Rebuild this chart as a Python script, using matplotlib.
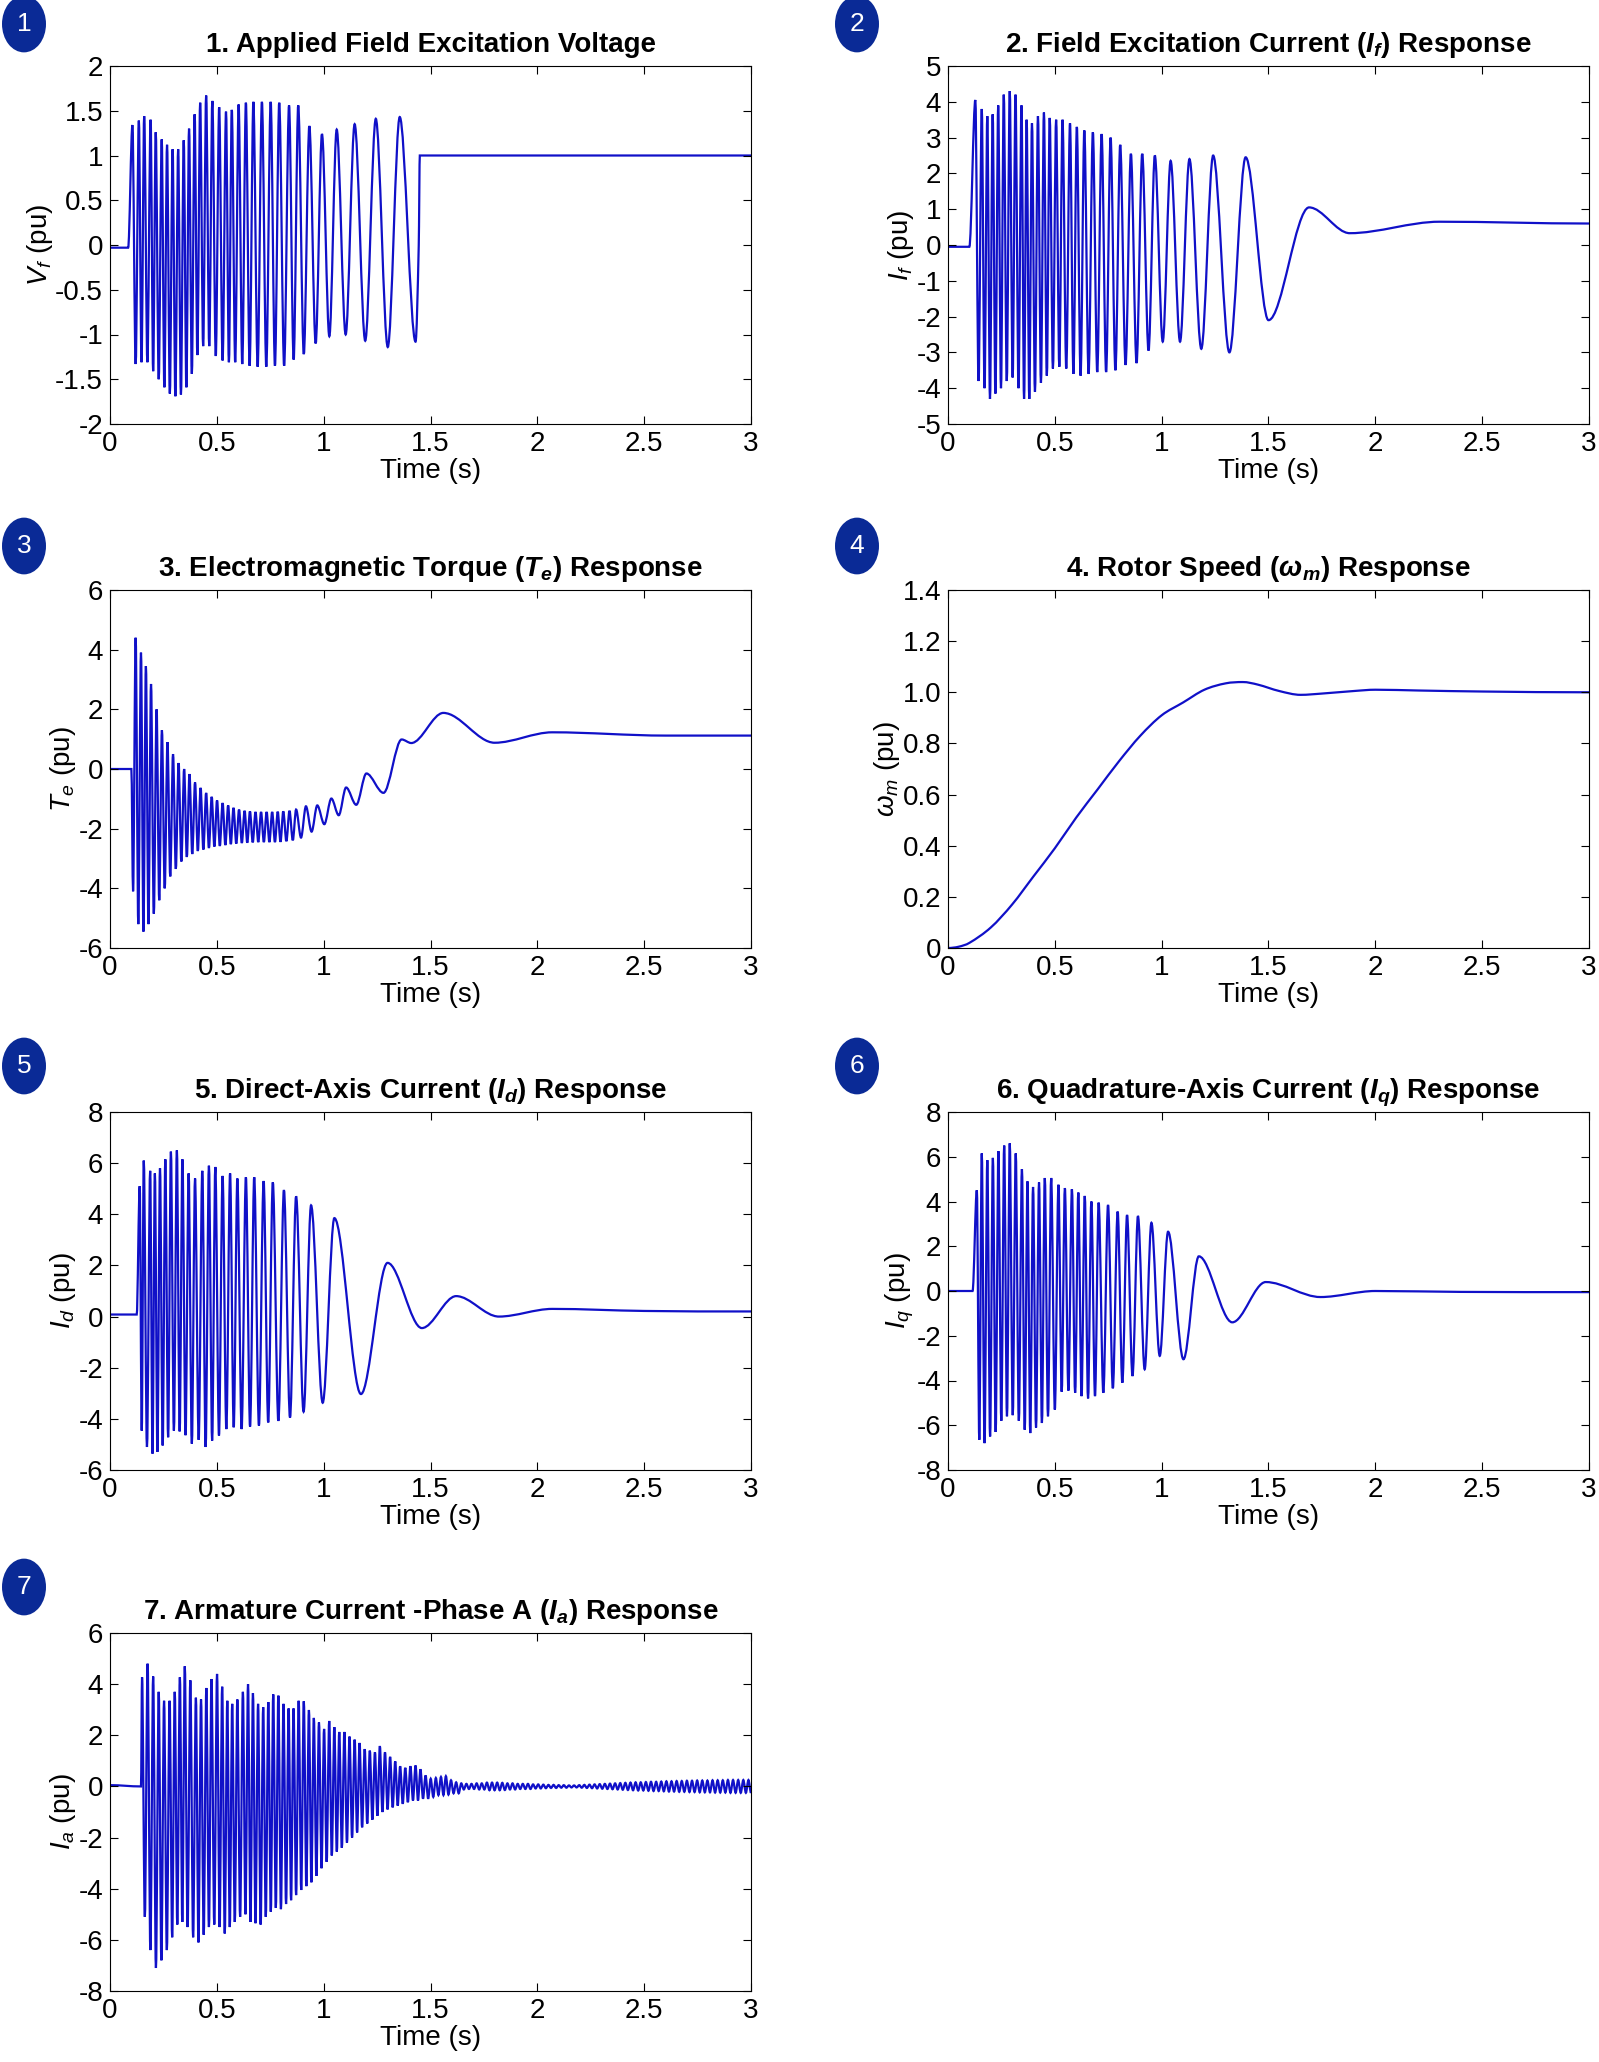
import numpy as np
import matplotlib
matplotlib.use("Agg")
import matplotlib.pyplot as plt
from matplotlib.patches import Circle, PathPatch
from matplotlib.path import Path

plt.rcParams['font.family'] = ['Liberation Sans', 'DejaVu Sans']
plt.rcParams['mathtext.fontset'] = 'custom'
plt.rcParams['mathtext.rm'] = 'Liberation Sans'
plt.rcParams['mathtext.it'] = 'Liberation Sans:italic'
plt.rcParams['mathtext.bf'] = 'Liberation Sans:bold'
plt.rcParams['mathtext.bfit'] = 'Liberation Sans:bold:italic'
plt.rcParams['axes.unicode_minus'] = False

LINE = '#1010c8'
BADGE = '#0a2a96'

# ---- 1. field voltage: peak times / peak values / trough values
vf_tmax = [0.105, 0.135, 0.160, 0.190, 0.214, 0.242, 0.267, 0.293, 0.319, 0.345, 0.370, 0.396,
           0.422, 0.450, 0.479, 0.511, 0.543, 0.570, 0.602, 0.636, 0.671, 0.711, 0.752, 0.792,
           0.838, 0.881, 0.933, 0.992, 1.061, 1.145, 1.244, 1.356]
vf_max = [1.34, 1.39, 1.44, 1.40, 1.26, 1.18, 1.12, 1.07, 1.07, 1.17, 1.30, 1.46, 1.59, 1.67,
          1.61, 1.54, 1.49, 1.51, 1.57, 1.59, 1.60, 1.60, 1.60, 1.59, 1.56, 1.56, 1.33, 1.24,
          1.29, 1.35, 1.41, 1.43]
vf_min = [-1.33, -1.31, -1.31, -1.41, -1.50, -1.59, -1.66, -1.69, -1.67, -1.59, -1.44, -1.23,
          -1.13, -1.13, -1.24, -1.29, -1.31, -1.31, -1.33, -1.35, -1.36, -1.36, -1.35, -1.35,
          -1.28, -1.22, -1.10, -1.02, -1.00, -1.07, -1.14, -1.08]
vf_head_t = [0.0, 0.085]
vf_head_v = [-0.03, -0.03]
vf_tail_t = [1.445, 1.45, 3.0]
vf_tail_v = [0.0, 1.0, 1.0]

# ---- 2. field current
if_tmax = [0.128, 0.158, 0.184, 0.209, 0.235, 0.261, 0.289, 0.316, 0.344, 0.368, 0.393, 0.421,
           0.449, 0.476, 0.506, 0.536, 0.571, 0.603, 0.638, 0.678, 0.719, 0.761, 0.806, 0.856,
           0.909, 0.968, 1.042, 1.130, 1.241, 1.393]
if_max = [4.05, 3.8, 3.6, 3.65, 3.9, 4.2, 4.3, 4.2, 3.9, 3.5, 3.4, 3.6, 3.7, 3.55, 3.5, 3.5,
          3.4, 3.3, 3.2, 3.15, 3.1, 3.0, 2.8, 2.55, 2.55, 2.5, 2.35, 2.4, 2.5, 2.45]
if_min = [-3.8, -4.0, -4.3, -4.15, -4.0, -3.8, -3.7, -4.0, -4.3, -4.3, -4.1, -3.85, -3.65,
          -3.45, -3.4, -3.45, -3.6, -3.65, -3.6, -3.55, -3.55, -3.5, -3.35, -3.3, -2.95,
          -2.7, -2.7, -2.9, -3.0, -2.1]
if_head_t = [0.0, 0.1]
if_head_v = [-0.05, -0.05]
if_last_min_t = 1.50
if_tail_t = [1.69, 1.88, 2.3, 3.0]
if_tail_v = [1.05, 0.33, 0.65, 0.6]

# ---- 3. electromagnetic torque
te_tmax = [0.120, 0.145, 0.168, 0.192, 0.218, 0.243, 0.269, 0.295, 0.321, 0.347, 0.372, 0.398,
           0.424, 0.450, 0.476, 0.501, 0.527, 0.553, 0.578, 0.604, 0.630, 0.655, 0.681, 0.707,
           0.733, 0.759, 0.785, 0.811, 0.840, 0.871, 0.917, 0.970, 1.036, 1.105, 1.200]
te_max = [4.4, 3.9, 3.45, 2.85, 2.0, 1.3, 0.9, 0.5, 0.2, 0.0, -0.17, -0.45, -0.63, -0.8, -0.93,
          -1.05, -1.14, -1.22, -1.3, -1.36, -1.4, -1.42, -1.44, -1.44, -1.44, -1.44, -1.43,
          -1.42, -1.40, -1.36, -1.25, -1.22, -0.99, -0.62, -0.15]
te_min = [-5.2, -5.45, -5.2, -4.85, -4.4, -4.0, -3.6, -3.35, -3.1, -2.95, -2.85, -2.75, -2.7,
          -2.65, -2.6, -2.58, -2.55, -2.52, -2.5, -2.48, -2.47, -2.46, -2.45, -2.45, -2.45,
          -2.45, -2.44, -2.42, -2.39, -2.3, -2.1, -1.85, -1.55, -1.2, -0.8]
te_head_t = [0.0, 0.1, 0.108]
te_head_v = [0.0, 0.0, -4.1]
te_last_min_t = 1.28
te_tail_t = [1.365, 1.41, 1.56, 1.80, 2.07, 2.6, 3.0]
te_tail_v = [0.99, 0.87, 1.88, 0.88, 1.23, 1.12, 1.12]

# ---- 4. rotor speed
wm_t = [0.0, 0.05, 0.1, 0.2, 0.3, 0.4, 0.5, 0.6, 0.7, 0.8, 0.9, 1.0, 1.1, 1.2, 1.3, 1.38,
        1.45, 1.55, 1.65, 1.75, 1.9, 2.0, 2.2, 2.5, 3.0]
wm_v = [0.0, 0.005, 0.02, 0.08, 0.17, 0.28, 0.39, 0.51, 0.62, 0.73, 0.83, 0.91, 0.96, 1.01,
        1.035, 1.04, 1.03, 1.005, 0.99, 0.995, 1.005, 1.01, 1.007, 1.003, 1.0]

# ---- 5. direct-axis current
id_tmax = [0.139, 0.158, 0.188, 0.210, 0.234, 0.259, 0.285, 0.313, 0.339, 0.368, 0.398, 0.432,
           0.463, 0.493, 0.527, 0.562, 0.596, 0.636, 0.675, 0.719, 0.762, 0.814, 0.871, 0.941,
           1.050, 1.299, 1.620]
id_max = [5.1, 6.1, 5.7, 5.6, 5.8, 6.15, 6.45, 6.5, 6.15, 5.6, 5.4, 5.7, 5.9, 5.85, 5.5, 5.6,
          5.4, 5.45, 5.45, 5.3, 5.25, 4.95, 4.7, 4.35, 3.85, 2.1, 0.8]
id_min = [-4.46, -5.1, -5.36, -5.29, -5.04, -4.72, -4.46, -4.49, -4.64, -4.97, -4.82, -5.1,
          -4.85, -4.65, -4.4, -4.33, -4.4, -4.3, -4.26, -4.14, -4.08, -3.95, -3.72, -3.37,
          -3.03, -0.45, 0.0]
id_head_t = [0.0, 0.125]
id_head_v = [0.08, 0.08]
id_last_min_t = 1.82
id_tail_t = [2.07, 2.5, 3.0]
id_tail_v = [0.3, 0.22, 0.2]

# ---- 6. quadrature-axis current
iq_tmax = [0.135, 0.158, 0.184, 0.210, 0.236, 0.263, 0.289, 0.317, 0.346, 0.372, 0.398, 0.426,
           0.453, 0.483, 0.517, 0.547, 0.580, 0.610, 0.640, 0.671, 0.705, 0.749, 0.794, 0.838,
           0.889, 0.952, 1.030, 1.174, 1.487, 2.0]
iq_max = [4.5, 6.15, 5.85, 5.95, 6.25, 6.5, 6.6, 6.15, 5.45, 4.9, 4.65, 4.85, 5.05, 5.05, 4.75,
          4.6, 4.55, 4.4, 4.25, 4.0, 3.95, 3.85, 3.55, 3.4, 3.35, 3.05, 2.65, 1.55, 0.4, 0.0]
iq_min = [-6.65, -6.8, -6.5, -6.3, -5.8, -5.6, -5.55, -5.8, -6.2, -6.35, -6.1, -5.9, -5.6,
          -5.3, -4.5, -4.45, -4.55, -4.7, -4.8, -4.7, -4.55, -4.35, -4.1, -3.8, -3.5, -2.9,
          -3.05, -1.4, -0.27]
iq_head_t = [0.0, 0.115]
iq_head_v = [0.0, 0.0]
iq_tail_t = [2.4, 3.0]
iq_tail_v = [-0.04, -0.05]

# ---- 7. armature current phase A
ia_tmax = [0.150, 0.176, 0.202, 0.228, 0.253, 0.279, 0.303, 0.327, 0.350, 0.376, 0.402, 0.426,
           0.451, 0.475, 0.501, 0.525, 0.549, 0.572, 0.596, 0.622, 0.646, 0.669, 0.693, 0.717,
           0.741, 0.764, 0.788, 0.812, 0.836, 0.859, 0.883, 0.907, 0.931, 0.954, 0.978, 1.002,
           1.026, 1.050, 1.073, 1.097, 1.121, 1.145, 1.168, 1.192, 1.216, 1.240, 1.263, 1.287,
           1.311, 1.335, 1.358, 1.382, 1.406, 1.430, 1.453, 1.477, 1.501, 1.525, 1.549, 1.572,
           1.596, 1.620]
ia_max = [4.27, 4.8, 4.3, 3.7, 3.35, 3.35, 3.7, 4.27, 4.7, 4.15, 3.47, 3.4, 3.85, 4.2, 4.4,
          3.9, 3.35, 3.23, 3.4, 3.7, 4.0, 3.65, 3.23, 3.1, 3.3, 3.6, 3.55, 3.23, 3.05, 3.05,
          3.35, 3.33, 2.99, 2.68, 2.5, 2.25, 2.56, 2.32, 2.13, 2.13, 1.95, 1.83, 1.7, 1.46, 1.4,
          1.34, 1.58, 1.34, 1.16, 0.98, 0.79, 0.73, 0.79, 0.82, 0.67, 0.43, 0.3, 0.33, 0.37,
          0.4, 0.24, 0.16]
ia_min = [-5.1, -6.4, -7.1, -6.8, -6.4, -5.9, -5.4, -5.3, -5.5, -5.9, -6.1, -5.8, -5.5, -5.4,
          -5.5, -5.75, -5.5, -5.3, -5.1, -5.0, -5.3, -5.35, -5.4, -5.1, -4.9, -4.75, -4.8,
          -4.6, -4.45, -4.25, -4.05, -3.9, -3.75, -3.5, -3.2, -2.95, -2.7, -2.55, -2.4, -2.2,
          -2.0, -1.8, -1.6, -1.45, -1.3, -1.15, -1.0, -0.9, -0.82, -0.75, -0.68, -0.62, -0.55,
          -0.55, -0.48, -0.48, -0.41, -0.34, -0.34, -0.32, -0.27, -0.27]
ia_head_t = [0.0, 0.145]
ia_head_v = [0.05, 0.0]
ia_last_min_t = 1.632
ia_tail_t = [1.644, 1.668, 1.692, 1.716, 1.740, 1.764, 1.788, 1.812, 1.836, 1.860, 1.884,
             1.908, 1.932, 1.956, 1.980, 2.004, 2.028, 2.052, 2.076, 2.100, 2.124, 2.148,
             2.172, 2.196, 2.220, 2.244, 2.268, 2.292, 2.316, 2.340, 2.364, 2.388, 2.412,
             2.436, 2.460, 2.484, 2.508, 2.532, 2.556, 2.580, 2.604, 2.628, 2.652, 2.676,
             2.700, 2.724, 2.748, 2.772, 2.796, 2.820, 2.844, 2.868, 2.892, 2.916, 2.940,
             2.964, 2.988]
ia_tail_amp = [0.12, 0.1, 0.1, 0.12, 0.12, 0.15, 0.15, 0.15, 0.14, 0.12, 0.12, 0.1, 0.1, 0.1,
               0.08, 0.08, 0.07, 0.06, 0.06, 0.05, 0.05, 0.04, 0.04, 0.05, 0.06, 0.07, 0.08,
               0.09, 0.1, 0.11, 0.12, 0.13, 0.14, 0.15, 0.16, 0.16, 0.17, 0.18, 0.18, 0.19, 0.2,
               0.2, 0.21, 0.21, 0.22, 0.22, 0.23, 0.23, 0.23, 0.24, 0.24, 0.24, 0.25, 0.25,
               0.25, 0.25, 0.25]


def zigzag(tmax, vmax, vmin, last_min_t=None):
    # peaks and troughs alternate; troughs sit between neighbouring peaks
    t, v = [], []
    for i, (tp, vp) in enumerate(zip(tmax, vmax)):
        t.append(tp)
        v.append(vp)
        if i < len(vmin):
            tn = (tp + tmax[i + 1]) / 2 if i + 1 < len(tmax) else last_min_t
            t.append(tn)
            v.append(vmin[i])
    return t, v


def series(head_t, head_v, body, tail_t, tail_v):
    return (list(head_t) + body[0] + list(tail_t), list(head_v) + body[1] + list(tail_v))


def smooth_path(t, v):
    # cubic Hermite pieces drawn as Bezier curves; flat tangent at turning points
    t = np.asarray(t, float)
    v = np.asarray(v, float)
    n = len(t)
    m = np.zeros(n)
    for i in range(1, n - 1):
        if (v[i] - v[i - 1]) * (v[i + 1] - v[i]) > 0:
            m[i] = (v[i + 1] - v[i - 1]) / (t[i + 1] - t[i - 1])
    verts = [(t[0], v[0])]
    codes = [Path.MOVETO]
    for i in range(n - 1):
        d = (t[i + 1] - t[i]) / 3
        verts += [(t[i] + d, v[i] + d * m[i]), (t[i + 1] - d, v[i + 1] - d * m[i + 1]),
                  (t[i + 1], v[i + 1])]
        codes += [Path.CURVE4] * 3
    return Path(verts, codes)


ia_tail_zz = ([], [])
for tt, a in zip(ia_tail_t, ia_tail_amp):
    ia_tail_zz[0].extend([tt, tt + 0.012])
    ia_tail_zz[1].extend([a, -a])

curves = [
    series(vf_head_t, vf_head_v, zigzag(vf_tmax, vf_max, vf_min, 1.43), vf_tail_t, vf_tail_v),
    series(if_head_t, if_head_v, zigzag(if_tmax, if_max, if_min, if_last_min_t), if_tail_t, if_tail_v),
    series(te_head_t, te_head_v, zigzag(te_tmax, te_max, te_min, te_last_min_t), te_tail_t, te_tail_v),
    (wm_t, wm_v),
    series(id_head_t, id_head_v, zigzag(id_tmax, id_max, id_min, id_last_min_t), id_tail_t, id_tail_v),
    series(iq_head_t, iq_head_v, zigzag(iq_tmax, iq_max, iq_min), iq_tail_t, iq_tail_v),
    series(ia_head_t, ia_head_v, zigzag(ia_tmax, ia_max, ia_min, ia_last_min_t), ia_tail_zz[0], ia_tail_zz[1]),
]

titles = [
    '1. Applied Field Excitation Voltage',
    r'2. Field Excitation Current ($\mathbfit{I_f}$) Response',
    r'3. Electromagnetic Torque ($\mathbfit{T_e}$) Response',
    r'4. Rotor Speed ($\mathbfit{\omega_m}$) Response',
    r'5. Direct-Axis Current ($\mathbfit{I_d}$) Response',
    r'6. Quadrature-Axis Current ($\mathbfit{I_q}$) Response',
    r'7. Armature Current -Phase A ($\mathbfit{I_a}$) Response',
]
ylabels = [r'$V_f$ (pu)', r'$I_f$ (pu)', r'$T_e$ (pu)', r'$\omega_m$ (pu)',
           r'$I_d$ (pu)', r'$I_q$ (pu)', r'$I_a$ (pu)']
ylims = [(-2, 2), (-5, 5), (-6, 6), (0, 1.4), (-6, 8), (-8, 8), (-8, 6)]
yticks = [
    [-2, -1.5, -1, -0.5, 0, 0.5, 1, 1.5, 2],
    list(range(-5, 6)),
    list(range(-6, 7, 2)),
    [0, 0.2, 0.4, 0.6, 0.8, 1.0, 1.2, 1.4],
    list(range(-6, 9, 2)),
    list(range(-8, 9, 2)),
    list(range(-8, 7, 2)),
]
yticklabels = [
    ['-2', '-1.5', '-1', '-0.5', '0', '0.5', '1', '1.5', '2'],
    None, None,
    ['0', '0.2', '0.4', '0.6', '0.8', '1.0', '1.2', '1.4'],
    None, None, None,
]

W, H = 1599, 2062
fig = plt.figure(figsize=(W / 100, H / 100), dpi=100)
col_left = [110, 948]
row_top = [66, 590, 1112, 1633]
ax_w, ax_h = 641, 358
badge_x = [24, 857]
badge_y = [24, 546, 1066, 1587]

for i in range(7):
    r, c = divmod(i, 2)
    ax = fig.add_axes([col_left[c] / W, 1 - (row_top[r] + ax_h) / H, ax_w / W, ax_h / H])
    ax.add_patch(PathPatch(smooth_path(*curves[i]), facecolor='none', edgecolor=LINE, lw=1.6))
    ax.set_xlim(0, 3)
    ax.set_ylim(*ylims[i])
    ax.set_xticks([0, 0.5, 1, 1.5, 2, 2.5, 3])
    ax.set_xticklabels(['0', '0.5', '1', '1.5', '2', '2.5', '3'])
    ax.set_yticks(yticks[i])
    if yticklabels[i] is not None:
        ax.set_yticklabels(yticklabels[i])
    ax.tick_params(direction='in', top=True, right=True, labelsize=20, length=6, pad=5)
    ax.set_xlabel('Time (s)', fontsize=20, labelpad=1)
    ax.set_ylabel(ylabels[i], fontsize=20, labelpad=0)
    ax.set_title(titles[i], fontsize=20, fontweight='bold', pad=10)
    fig.patches.append(Circle((badge_x[c] / W, 1 - badge_y[r] / H), 22 / W,
                              transform=fig.transFigure, facecolor=BADGE, edgecolor='none'))
    fig.text(badge_x[c] / W, 1 - badge_y[r] / H, str(i + 1), color='white', fontsize=19,
             ha='center', va='center')

fig.savefig('out.png', dpi=100)
